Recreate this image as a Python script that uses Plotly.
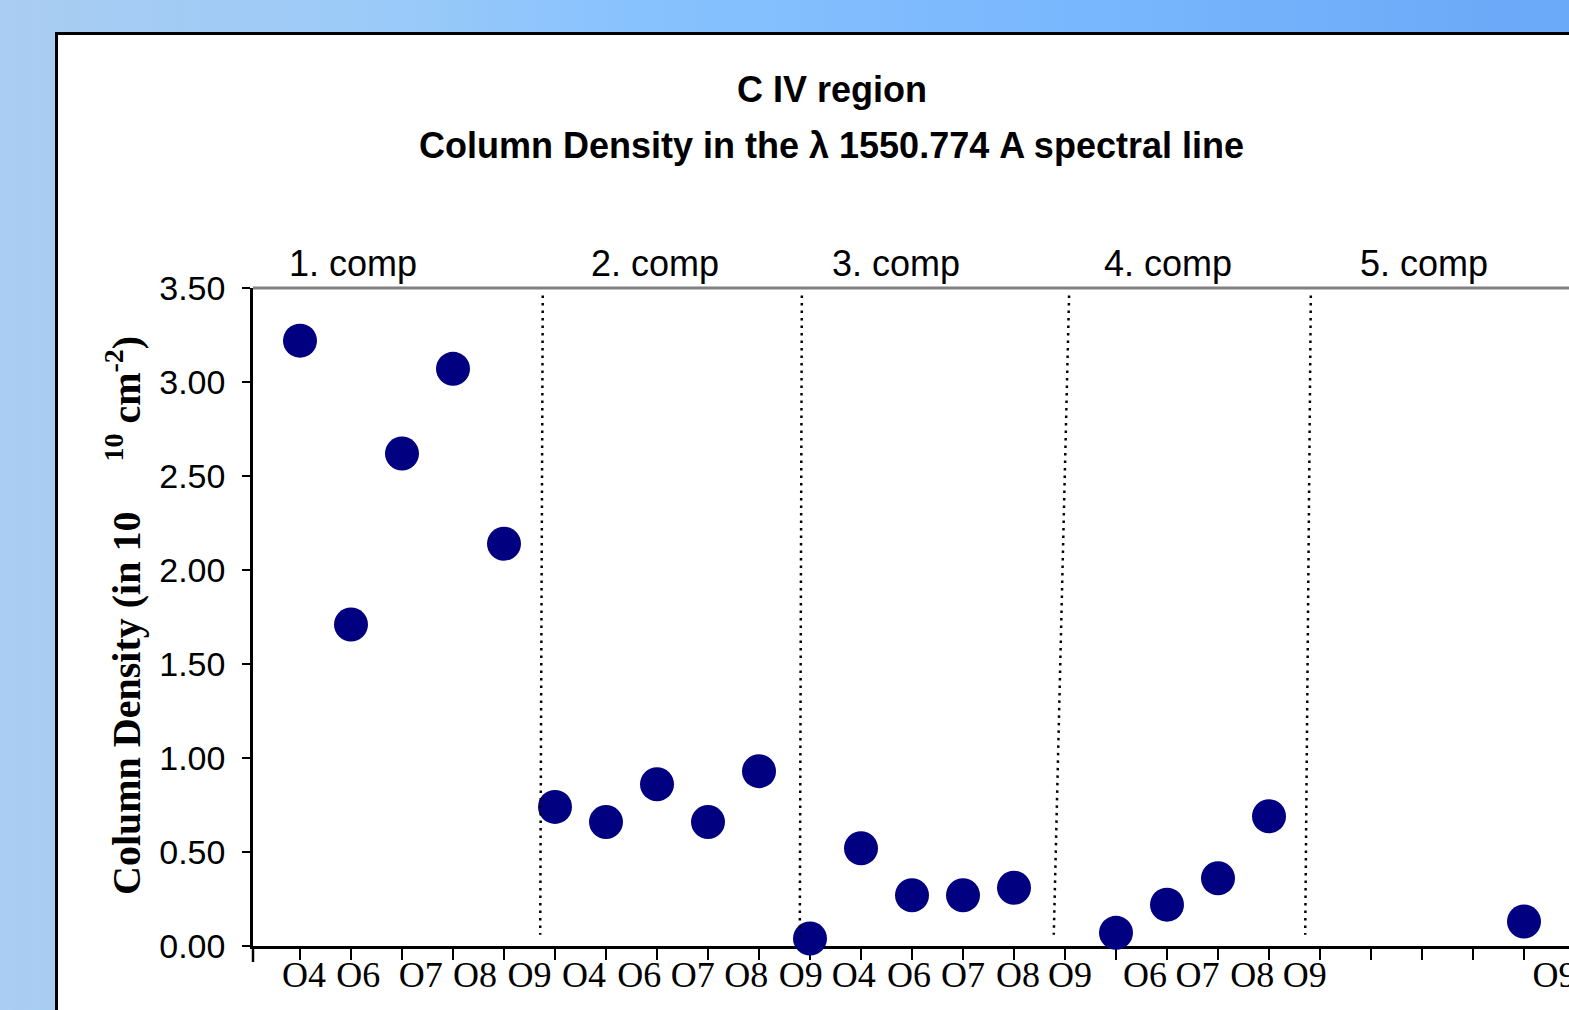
import base64
import plotly.graph_objects as go

# ---------------- data ----------------
spectra = ["O4", "O6", "O7", "O8", "O9"]
components = ["1. comp", "2. comp", "3. comp", "4. comp", "5. comp"]
comp1 = [3.22, 1.71, 2.62, 3.07, 2.14]
comp2 = [0.74, 0.66, 0.86, 0.66, 0.93]
comp3 = [0.04, 0.52, 0.27, 0.27, 0.31]
comp4 = [None, 0.07, 0.22, 0.36, 0.69]
comp5 = [None, None, None, None, 0.13]
series = [comp1, comp2, comp3, comp4, comp5]

tick_text = ["O4", "O6", "O7", "O8", "O9",
             "O4", "O6", "O7", "O8", "O9",
             "O4", "O6", "O7", "O8", "O9",
             "O6", "O7", "O8", "O9",
             "O9"]
tick_text_pos = [0.08, 1.14, 2.37, 3.43, 4.5,
                 5.57, 6.65, 7.7, 8.75, 9.82,
                 10.86, 11.94, 13.0, 14.08, 15.1,
                 16.57, 17.6, 18.67, 19.7,
                 24.6]
comp_label_pos = [1.04, 6.96, 11.69, 17.02, 22.04]
separators = [(4.76, 4.71), (9.84, 9.80), (15.08, 14.78), (19.82, 19.71)]

# build points
xs, ys = [], []
for ci, vals in enumerate(series):
    for si, v in enumerate(vals):
        if v is not None:
            xs.append(ci * len(spectra) + si)
            ys.append(v)

W, H = 1569, 1010
L, R, T, B = 253, 0, 288, 64
PW = W - L - R
PH = H - T - B

def px_x(p):
    return (p - L) / PW

def px_y(p):
    return (H - B - p) / PH

XR = [(253 - 300) / 51.0, (1569 - 300) / 51.0]

fig = go.Figure()
fig.add_trace(go.Scatter(
    x=xs, y=ys, mode="markers",
    marker=dict(size=34, color="#000080", line=dict(width=0)),
    cliponaxis=False, showlegend=False, hoverinfo="x+y",
))
# invisible trace on overlay axis that carries the category tick labels
fig.add_trace(go.Scatter(x=[XR[0]], y=[None], xaxis="x2", showlegend=False,
                         hoverinfo="skip"))

# gradient background as svg image
svg = ("<svg xmlns='http://www.w3.org/2000/svg' width='1569' height='1010' "
       "preserveAspectRatio='none'><defs><linearGradient id='g' x1='0' y1='0' x2='1' y2='0'>"
       "<stop offset='0' stop-color='#aacdf2'/>"
       "<stop offset='0.25' stop-color='#9acaf8'/>"
       "<stop offset='0.4' stop-color='#88c2fe'/>"
       "<stop offset='0.7' stop-color='#78b6fd'/>"
       "<stop offset='1' stop-color='#6aa8f8'/>"
       "</linearGradient></defs><rect width='1569' height='1010' fill='url(#g)'/></svg>")
src = "data:image/svg+xml;base64," + base64.b64encode(svg.encode()).decode()
fig.add_layout_image(dict(source=src, xref="paper", yref="paper",
                          x=px_x(0), y=px_y(0), sizex=W / PW, sizey=H / PH,
                          xanchor="left", yanchor="top", sizing="stretch",
                          layer="below"))

shapes = []
# white panel with black border
shapes.append(dict(type="rect", xref="paper", yref="paper",
                   x0=px_x(56.5), x1=px_x(1650), y0=px_y(1080), y1=px_y(33.5),
                   fillcolor="white", line=dict(color="black", width=3),
                   layer="below"))
# top grey border of plot area
shapes.append(dict(type="line", xref="paper", yref="paper",
                   x0=0, x1=1.01, y0=1, y1=1,
                   line=dict(color="#808080", width=3)))
# dotted separators
for top_x, bot_x in separators:
    shapes.append(dict(type="line", xref="x", yref="y",
                       x0=top_x, x1=bot_x, y0=3.46, y1=0.06,
                       line=dict(color="black", width=2.5, dash="2.5px,5px")))
# y-axis extension below x axis
shapes.append(dict(type="line", xref="paper", yref="paper",
                   x0=0, x1=0, y0=0, y1=px_y(962),
                   line=dict(color="black", width=2.5)))

annotations = []
annotations.append(dict(text="<b>C IV region</b>", xref="paper", yref="paper",
                        x=px_x(832), y=px_y(90), xanchor="center", yanchor="middle",
                        showarrow=False,
                        font=dict(family="Liberation Sans, Arial", size=36, color="black")))
annotations.append(dict(text="<b>Column Density in the λ 1550.774 A spectral line</b>",
                        xref="paper", yref="paper",
                        x=px_x(831), y=px_y(145), xanchor="center", yanchor="middle",
                        showarrow=False,
                        font=dict(family="Liberation Sans, Arial", size=36, color="black")))
for lab, pos in zip(components, comp_label_pos):
    annotations.append(dict(text=lab, xref="x", yref="paper", x=pos, y=px_y(263),
                            xanchor="center", yanchor="middle", showarrow=False,
                            font=dict(family="Liberation Sans, Arial", size=36, color="black")))
annotations.append(dict(
    text="<b>Column Density (in 10\u00a0\u00a0\u00a0\u00a0\u00a0<sup>10</sup> cm<sup>-2</sup>)</b>",
    xref="paper", yref="paper", x=px_x(123), y=px_y(616), textangle=-90,
    xanchor="center", yanchor="middle", showarrow=False,
    font=dict(family="Liberation Serif, Times New Roman", size=40, color="black")))

fig.update_layout(
    width=W, height=H, autosize=False,
    margin=dict(l=L, r=R, t=T, b=B, pad=0, autoexpand=False),
    paper_bgcolor="#aacdf2",
    plot_bgcolor="rgba(0,0,0,0)",
    showlegend=False,
    shapes=shapes,
    annotations=annotations,
    xaxis=dict(range=XR, showgrid=False, zeroline=False, showline=True,
               linecolor="black", linewidth=3, ticks="outside", ticklen=11,
               tickwidth=2, tickcolor="black", tickmode="array",
               tickvals=list(range(25)), showticklabels=False, automargin=False,
               layer="below traces", fixedrange=True),
    xaxis2=dict(range=XR, overlaying="x", anchor="y", side="bottom",
                showgrid=False, zeroline=False, showline=False, ticks="",
                tickmode="array", tickvals=tick_text_pos, ticktext=tick_text,
                ticklabelstandoff=4, ticklabeloverflow="allow", automargin=False,
                tickfont=dict(family="Liberation Serif, Times New Roman", size=36,
                              color="black")),
    yaxis=dict(range=[0, 3.5], showgrid=False, zeroline=False, showline=True,
               linecolor="black", linewidth=2.5, ticks="outside", ticklen=8,
               tickwidth=2, tickcolor="black", dtick=0.5, tick0=0,
               tickformat=".2f", ticklabelstandoff=10, automargin=False,
               tickfont=dict(family="Liberation Sans, Arial", size=34, color="black"),
               layer="below traces"),
)

post = ("document.documentElement.style.overflow='hidden';"
        "document.body.style.overflow='hidden';"
        "document.body.style.margin='0';"
        "document.body.style.padding='0';")

fig.write_html("out.html",
               config={"responsive": False, "displayModeBar": False},
               post_script=post)
